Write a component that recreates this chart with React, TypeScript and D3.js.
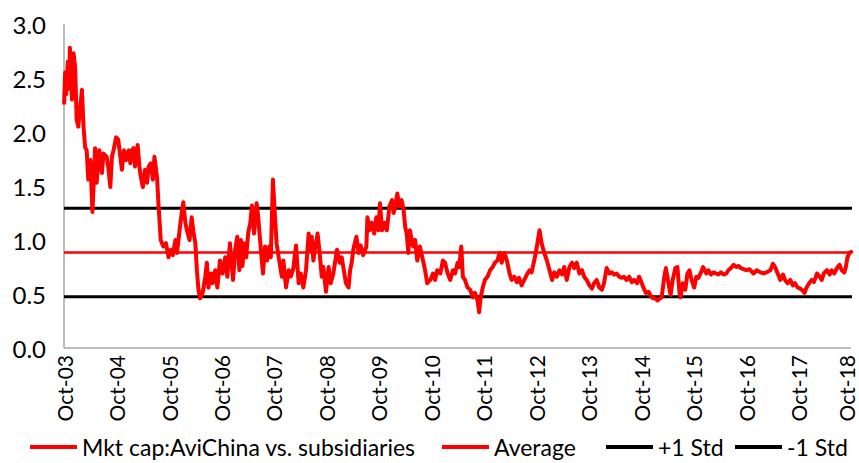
import React from "react";
import * as d3 from "d3";

// [decimal year, ratio]
const SERIES: [number, number][] = [
  [2003.75, 2.27], [2003.77, 2.55], [2003.79, 2.35], [2003.82, 2.65], [2003.85, 2.4], [2003.86, 2.78],
  [2003.9, 2.3], [2003.93, 2.73], [2003.96, 2.6], [2003.99, 2.11], [2004.02, 2.05], [2004.09, 2.39],
  [2004.12, 2.05], [2004.15, 1.86], [2004.18, 1.83], [2004.21, 1.56], [2004.25, 1.74], [2004.29, 1.26],
  [2004.31, 1.49], [2004.34, 1.85], [2004.37, 1.53], [2004.42, 1.83], [2004.47, 1.62], [2004.5, 1.8],
  [2004.56, 1.77], [2004.59, 1.68], [2004.63, 1.49], [2004.66, 1.77], [2004.69, 1.83], [2004.74, 1.95],
  [2004.78, 1.93], [2004.82, 1.77], [2004.85, 1.65], [2004.89, 1.83], [2004.93, 1.74], [2004.98, 1.83],
  [2005.01, 1.71], [2005.04, 1.83], [2005.07, 1.85], [2005.1, 1.68], [2005.15, 1.88], [2005.19, 1.65],
  [2005.22, 1.56], [2005.25, 1.49], [2005.29, 1.65], [2005.33, 1.53], [2005.36, 1.68], [2005.4, 1.71],
  [2005.44, 1.56], [2005.47, 1.77], [2005.52, 1.58], [2005.55, 1.31], [2005.59, 1.0], [2005.64, 0.94],
  [2005.69, 0.97], [2005.74, 0.84], [2005.78, 0.91], [2005.82, 0.86], [2005.87, 1.0], [2005.9, 0.88],
  [2005.95, 1.09], [2005.99, 1.25], [2006.02, 1.35], [2006.06, 1.16], [2006.09, 1.09], [2006.14, 1.0],
  [2006.18, 1.21], [2006.21, 1.09], [2006.25, 0.97], [2006.28, 0.72], [2006.31, 0.54], [2006.34, 0.46],
  [2006.39, 0.51], [2006.44, 0.66], [2006.47, 0.79], [2006.5, 0.56], [2006.55, 0.69], [2006.58, 0.6],
  [2006.63, 0.72], [2006.67, 0.56], [2006.72, 0.81], [2006.77, 0.69], [2006.82, 0.84], [2006.86, 0.66],
  [2006.91, 0.97], [2006.97, 0.63], [2007.01, 0.91], [2007.05, 1.03], [2007.09, 0.72], [2007.12, 1.0],
  [2007.15, 0.76], [2007.18, 0.97], [2007.22, 0.84], [2007.26, 1.07], [2007.3, 1.16], [2007.33, 1.32],
  [2007.37, 1.06], [2007.42, 1.34], [2007.45, 1.21], [2007.49, 0.97], [2007.54, 0.69], [2007.58, 0.94],
  [2007.62, 0.81], [2007.66, 0.94], [2007.69, 0.84], [2007.73, 1.56], [2007.77, 1.21], [2007.8, 0.97],
  [2007.85, 0.81], [2007.9, 0.66], [2007.93, 0.81], [2007.98, 0.56], [2008.03, 0.72], [2008.07, 0.66],
  [2008.12, 0.74], [2008.17, 0.95], [2008.22, 0.6], [2008.26, 0.69], [2008.31, 0.56], [2008.36, 0.72],
  [2008.41, 1.06], [2008.44, 0.91], [2008.47, 1.03], [2008.5, 0.81], [2008.53, 0.91], [2008.58, 1.06],
  [2008.62, 0.88], [2008.66, 0.66], [2008.69, 0.75], [2008.74, 0.52], [2008.79, 0.75], [2008.83, 0.6],
  [2008.88, 0.69], [2008.95, 0.91], [2009.0, 0.79], [2009.04, 0.84], [2009.07, 0.75], [2009.12, 0.6],
  [2009.17, 0.56], [2009.2, 0.72], [2009.23, 0.79], [2009.26, 0.91], [2009.32, 1.03], [2009.36, 0.88],
  [2009.4, 0.95], [2009.45, 0.86], [2009.51, 0.94], [2009.53, 1.21], [2009.57, 1.09], [2009.61, 1.16],
  [2009.66, 1.06], [2009.7, 1.21], [2009.74, 1.09], [2009.77, 1.34], [2009.81, 1.09], [2009.85, 1.16],
  [2009.9, 1.09], [2009.95, 1.31], [2010.0, 1.37], [2010.03, 1.25], [2010.06, 1.31], [2010.1, 1.43],
  [2010.14, 1.31], [2010.18, 1.37], [2010.22, 1.28], [2010.25, 1.12], [2010.28, 1.06], [2010.31, 0.88],
  [2010.34, 1.09], [2010.4, 0.94], [2010.44, 1.0], [2010.48, 0.81], [2010.53, 0.94], [2010.59, 0.81],
  [2010.63, 0.72], [2010.67, 0.6], [2010.73, 0.63], [2010.78, 0.69], [2010.82, 0.63], [2010.86, 0.72],
  [2010.92, 0.69], [2010.97, 0.81], [2011.01, 0.79], [2011.06, 0.69], [2011.11, 0.63], [2011.16, 0.72],
  [2011.2, 0.69], [2011.25, 0.79], [2011.28, 0.75], [2011.32, 0.94], [2011.35, 0.66], [2011.39, 0.63],
  [2011.44, 0.56], [2011.49, 0.54], [2011.54, 0.47], [2011.58, 0.51], [2011.63, 0.44], [2011.66, 0.33],
  [2011.69, 0.47], [2011.73, 0.56], [2011.77, 0.63], [2011.82, 0.66], [2011.87, 0.72], [2011.92, 0.75],
  [2011.96, 0.79], [2012.01, 0.81], [2012.05, 0.88], [2012.09, 0.79], [2012.14, 0.88], [2012.19, 0.81],
  [2012.24, 0.69], [2012.28, 0.63], [2012.33, 0.66], [2012.38, 0.61], [2012.42, 0.65], [2012.47, 0.58],
  [2012.52, 0.63], [2012.57, 0.68], [2012.62, 0.72], [2012.66, 0.7], [2012.71, 0.81], [2012.75, 0.91],
  [2012.78, 1.0], [2012.81, 1.09], [2012.85, 0.97], [2012.9, 0.88], [2012.95, 0.81], [2013.0, 0.72],
  [2013.05, 0.63], [2013.09, 0.7], [2013.14, 0.66], [2013.19, 0.72], [2013.24, 0.68], [2013.28, 0.75],
  [2013.33, 0.63], [2013.38, 0.75], [2013.43, 0.79], [2013.47, 0.74], [2013.52, 0.79], [2013.57, 0.69],
  [2013.62, 0.72], [2013.66, 0.66], [2013.71, 0.63], [2013.76, 0.58], [2013.81, 0.55], [2013.85, 0.6],
  [2013.9, 0.63], [2013.95, 0.56], [2014.0, 0.54], [2014.04, 0.6], [2014.09, 0.74], [2014.14, 0.69],
  [2014.19, 0.7], [2014.23, 0.68], [2014.28, 0.69], [2014.33, 0.66], [2014.38, 0.65], [2014.42, 0.66],
  [2014.47, 0.63], [2014.52, 0.66], [2014.57, 0.61], [2014.61, 0.63], [2014.67, 0.6], [2014.71, 0.66],
  [2014.76, 0.6], [2014.8, 0.55], [2014.84, 0.51], [2014.89, 0.52], [2014.92, 0.49], [2014.97, 0.46],
  [2015.01, 0.46], [2015.06, 0.44], [2015.11, 0.46], [2015.14, 0.47], [2015.19, 0.66], [2015.22, 0.74],
  [2015.27, 0.6], [2015.31, 0.49], [2015.35, 0.63], [2015.4, 0.74], [2015.44, 0.75], [2015.48, 0.51],
  [2015.5, 0.47], [2015.54, 0.6], [2015.59, 0.54], [2015.63, 0.69], [2015.67, 0.72], [2015.71, 0.63],
  [2015.76, 0.56], [2015.8, 0.66], [2015.84, 0.65], [2015.89, 0.7], [2015.93, 0.75], [2015.99, 0.69],
  [2016.03, 0.72], [2016.08, 0.68], [2016.13, 0.7], [2016.18, 0.69], [2016.22, 0.68], [2016.27, 0.7],
  [2016.32, 0.68], [2016.37, 0.69], [2016.41, 0.72], [2016.46, 0.74], [2016.51, 0.77], [2016.56, 0.75],
  [2016.6, 0.76], [2016.65, 0.74], [2016.7, 0.73], [2016.75, 0.72], [2016.81, 0.73], [2016.89, 0.69],
  [2016.95, 0.72], [2017.02, 0.7], [2017.08, 0.69], [2017.14, 0.7], [2017.21, 0.72], [2017.26, 0.78],
  [2017.3, 0.75], [2017.35, 0.69], [2017.4, 0.63], [2017.45, 0.68], [2017.49, 0.63], [2017.54, 0.6],
  [2017.59, 0.63], [2017.64, 0.58], [2017.68, 0.6], [2017.73, 0.56], [2017.78, 0.55], [2017.83, 0.53],
  [2017.86, 0.51], [2017.9, 0.56], [2017.95, 0.6], [2018.0, 0.63], [2018.04, 0.61], [2018.1, 0.69],
  [2018.15, 0.66], [2018.19, 0.63], [2018.23, 0.69], [2018.29, 0.72], [2018.34, 0.68], [2018.38, 0.72],
  [2018.43, 0.69], [2018.48, 0.74], [2018.53, 0.77], [2018.57, 0.72], [2018.62, 0.7], [2018.65, 0.75],
  [2018.68, 0.84], [2018.72, 0.88], [2018.75, 0.89],
];

const AVERAGE = 0.885;
const PLUS_STD = 1.295;
const MINUS_STD = 0.475;

const Y_TICKS = [0, 0.5, 1.0, 1.5, 2.0, 2.5, 3.0];
const X_TICK_YEARS = [2003, 2004, 2005, 2006, 2007, 2008, 2009, 2010, 2011, 2012, 2013, 2014, 2015, 2016, 2017, 2018];

const LEGEND = [
  { label: "Mkt cap:AviChina vs. subsidiaries", color: "#FF0000", x: 30 },
  { label: "Average", color: "#FF0000", x: 442 },
  { label: "+1 Std", color: "#000000", x: 606 },
  { label: "-1 Std", color: "#000000", x: 735 },
];

const FONT = "Lato, 'Open Sans', sans-serif";

function yearToDate(y: number): Date {
  const yr = Math.floor(y);
  const start = new Date(yr, 0, 1).getTime();
  const end = new Date(yr + 1, 0, 1).getTime();
  return new Date(start + (y - yr) * (end - start));
}

export default function App() {
  const W = 859;
  const H = 463;
  const left = 64;
  const right = 851;
  const top = 24;
  const bottom = 348;

  const x = d3
    .scaleTime()
    .domain([new Date(2003, 9, 1), new Date(2018, 9, 1)])
    .range([left, right]);
  const y = d3.scaleLinear().domain([0, 3]).range([bottom, top]);

  const line = d3
    .line<[number, number]>()
    .x((d) => x(yearToDate(d[0])))
    .y((d) => y(d[1]))
    .curve(d3.curveLinear);

  const fmt = d3.timeFormat("%b-%y");

  return (
    <svg width={W} height={H} style={{ position: "absolute", left: 0, top: 0, background: "#fff" }}>
      <rect x={0} y={0} width={W} height={H} fill="#fff" />
      {/* axes */}
      <line x1={left} x2={left} y1={top} y2={bottom} stroke="#A6A6A6" strokeWidth={1.5} />
      <line x1={left} x2={right} y1={bottom} y2={bottom} stroke="#A6A6A6" strokeWidth={1.5} />
      {Y_TICKS.map((t) => (
        <text
          key={t}
          x={46}
          y={y(t)}
          textAnchor="end"
          dominantBaseline="central"
          fontFamily={FONT}
          fontSize={24}
          fill="#000"
        >
          {t.toFixed(1)}
        </text>
      ))}
      {X_TICK_YEARS.map((yr) => {
        const d = new Date(yr, 9, 1);
        const px = x(d);
        return (
          <text
            key={yr}
            transform={`translate(${Math.min(px, 846)},${355}) rotate(-90)`}
            textAnchor="end"
            dominantBaseline="central"
            fontFamily={FONT}
            fontSize={21}
            fill="#000"
          >
            {fmt(d)}
          </text>
        );
      })}
      {/* reference lines */}
      <line x1={left} x2={right + 1} y1={y(PLUS_STD)} y2={y(PLUS_STD)} stroke="#000" strokeWidth={3} />
      <line x1={left} x2={right + 1} y1={y(MINUS_STD)} y2={y(MINUS_STD)} stroke="#000" strokeWidth={3} />
      {/* series */}
      <path d={line(SERIES) || ""} fill="none" stroke="#FF0000" strokeWidth={4} strokeLinejoin="round" strokeLinecap="round" />
      <line x1={left} x2={right + 1} y1={y(AVERAGE)} y2={y(AVERAGE)} stroke="#FF0000" strokeWidth={2.5} />
      {/* legend */}
      {LEGEND.map((l) => (
        <g key={l.label}>
          <line x1={l.x} x2={l.x + 47} y1={447} y2={447} stroke={l.color} strokeWidth={4} />
          <text
            x={l.x + 52}
            y={447}
            dominantBaseline="central"
            fontFamily={FONT}
            fontSize={23}
            fill="#000"
          >
            {l.label}
          </text>
        </g>
      ))}
    </svg>
  );
}
